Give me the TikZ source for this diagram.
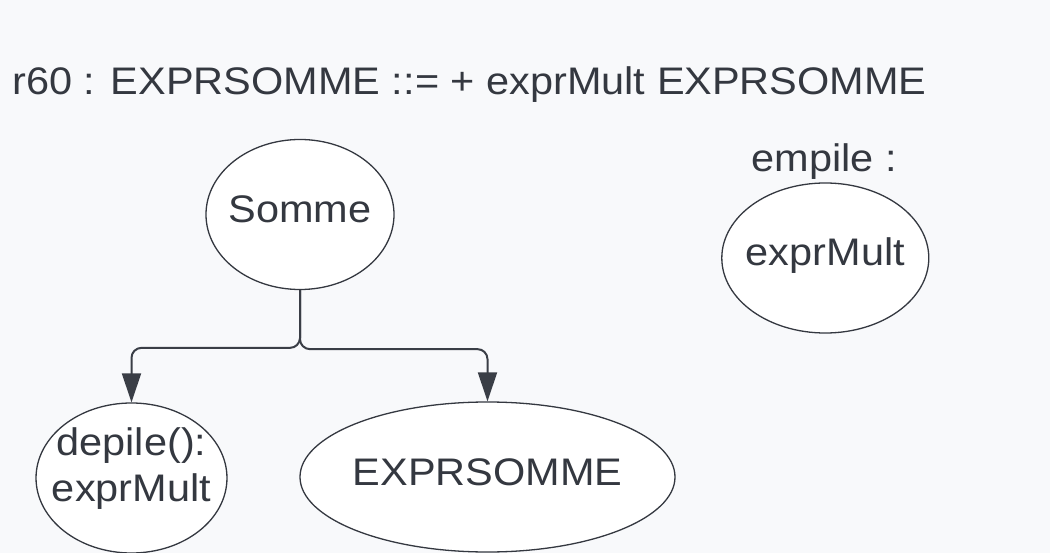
\documentclass[tikz,border=0pt]{standalone}
\usepackage{fontspec}
\setmainfont{Liberation Sans}[FakeStretch=1.08]
\usetikzlibrary{arrows.meta,shapes.geometric}
\definecolor{bgc}{RGB}{248,249,251}
\definecolor{ink}{RGB}{52,56,64}
\definecolor{edge}{RGB}{58,62,70}
\begin{document}
\begin{tikzpicture}[x=1pt,y=-1pt,
  txt/.style={text=ink, font=\fontsize{38.4}{46.5}\selectfont, inner sep=0pt},
  bubble/.style={txt, ellipse, draw=ink, line width=1.3pt, fill=white,
    minimum height=150pt, inner xsep=-12pt, text height=24pt, text depth=8pt},
  link/.style={draw=edge, line width=2pt, rounded corners=10pt,
    -{Triangle[width=19pt,length=29pt]}}]
% canvas
\fill[bgc] (0,0) rectangle (1050,553);
\useasboundingbox (0,0) rectangle (1050,553);

% grammar rule
\node[txt, anchor=base west] (rule) at (12.3,95) {r60 : EXPRSOMME ::= + exprMult EXPRSOMME};

% tree
\node[bubble, minimum width=188pt] (somme) at (300,214.5) {Somme};
\node[bubble, minimum width=189pt, align=center, text height=55pt, text depth=8pt] (depile) at (131.5,478) {depile():\\exprMult};
\node[bubble, minimum width=375pt] (rest) at (487.5,477) {EXPRSOMME};

% stack
\node[txt, anchor=base] (empile) at (824,171.7) {empile :};
\node[bubble, minimum width=207pt] (pushed) at (825.3,258) {exprMult};

% branches
\draw[link] (somme.south) -- ++(0,57.7) -| (depile.north);
\draw[link] (somme.south) -- ++(0,59) -| (rest.north);
\end{tikzpicture}
\end{document}
